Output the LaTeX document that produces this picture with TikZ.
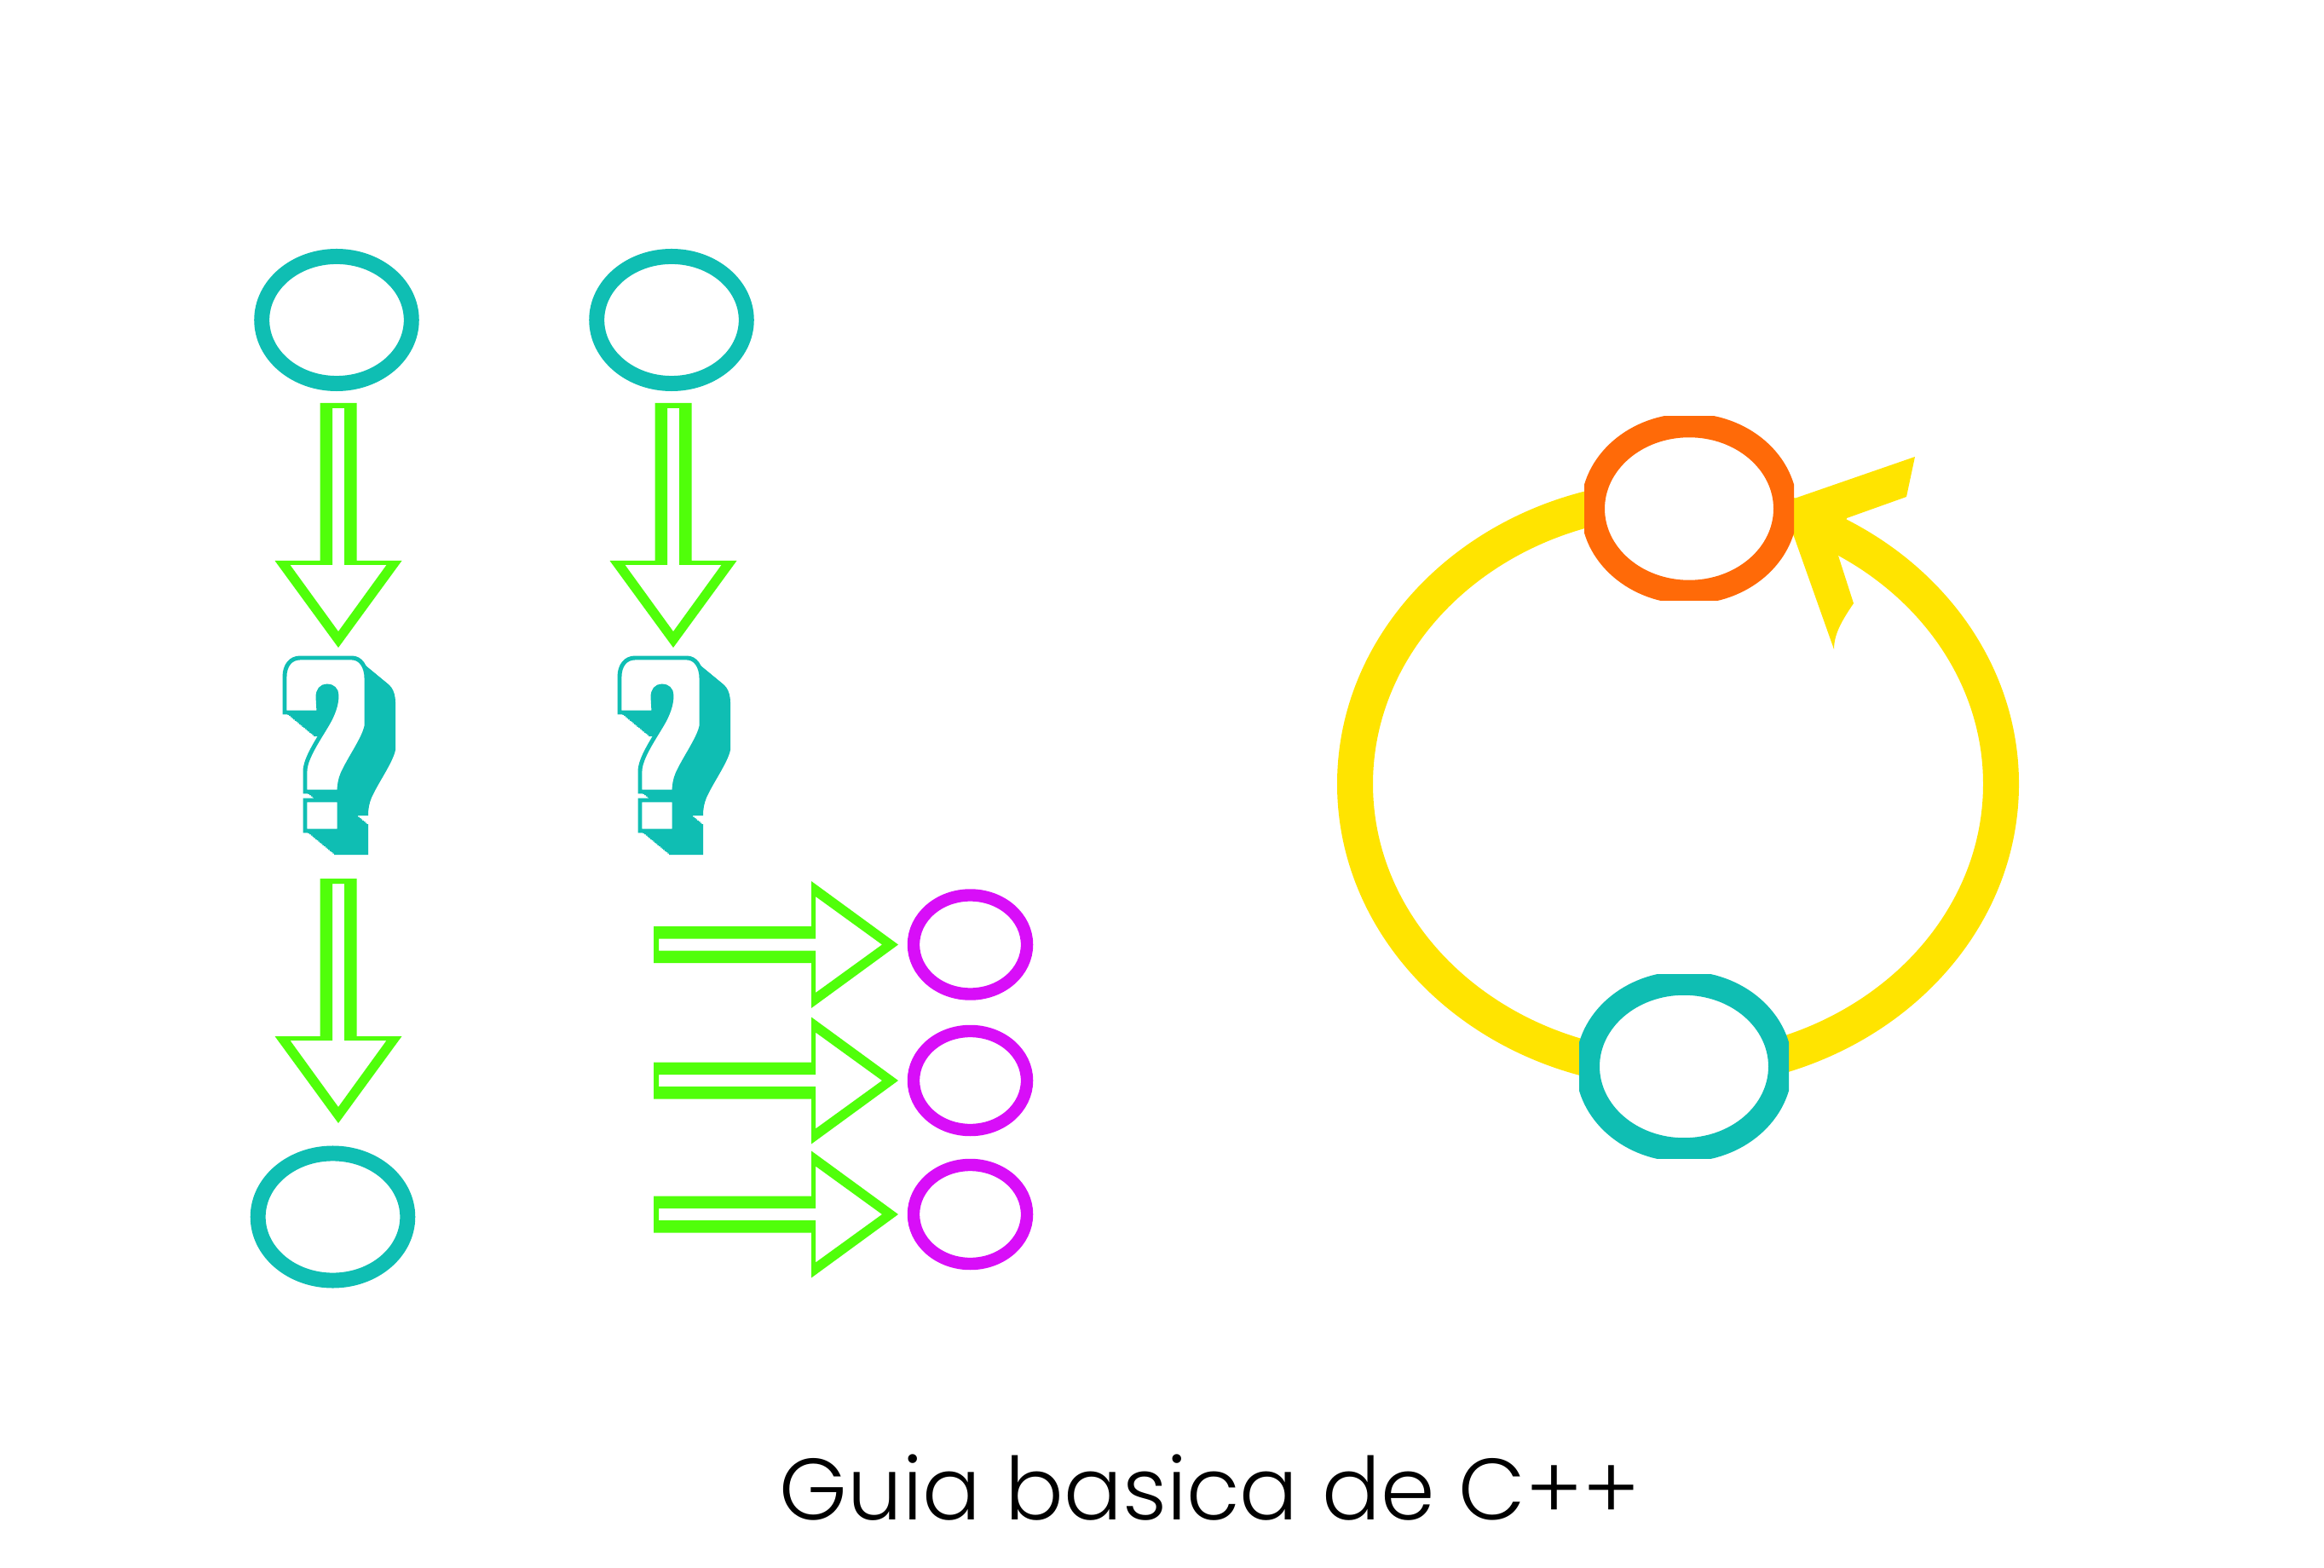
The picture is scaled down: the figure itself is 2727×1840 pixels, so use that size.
\documentclass[tikz,border=0pt]{standalone}
\usepackage{fontspec}
\setmainfont{Poppins}
\newfontfamily\titulofont{Poppins}[UprightFont={* Light}]
\usetikzlibrary{shapes.geometric, positioning}
\definecolor{Turquesa}{RGB}{15, 190, 179}
\definecolor{Verde}{RGB}{80, 255, 10}
\definecolor{Morado}{RGB}{216, 14, 248}
\definecolor{Naranja}{RGB}{255, 106, 8}
\definecolor{Amarillo}{RGB}{255, 228, 0}

% outline of the question mark (hook + dot), origin at its top left corner
\newcommand{\pregunta}{(0,64) -- (0,22) .. controls (0,9) and (7,0) .. (18,0) -- (79,0)
    .. controls (89,0) and (96,10) .. (96,24) -- (96,80)
    .. controls (93,95) and (76,118) .. (68,136) .. controls (65,143) and (64,150) .. (64,157)
    -- (24,157) -- (24,133) .. controls (24,118) and (40,95) .. (50,78)
    .. controls (57,66) and (61,55) .. (61,44) .. controls (61,37) and (56,33) .. (50,33)
    .. controls (43,33) and (39,38) .. (39,46) -- (40,64) -- cycle
    (24,167) rectangle (64,203)}

\begin{document}
\begin{tikzpicture}[
    x=0.01cm, y=-0.01cm, % one unit = one pixel of the sketch, y going down
    nodo/.style={ellipse, draw=Turquesa, fill=white, line width=5.1pt, minimum width=1.755cm, minimum height=1.49cm, inner sep=0pt},
    salida/.style={ellipse, draw=Morado, fill=white, line width=4.1pt, minimum width=1.33cm, minimum height=1.16cm, inner sep=0pt},
    ciclo/.style={ellipse, fill=white, line width=8pt, minimum width=2.26cm, minimum height=1.955cm, inner sep=0pt},
    anillo/.style={draw=Amarillo, line width=11.95pt},
    flecha/.pic={
        \fill[Verde, even odd rule]
            (0,-21.5) -- (185,-21.5) -- (185,-74.5) -- (287,0) -- (185,74.5) -- (185,21.5) -- (0,21.5) -- cycle
            (6,-7) -- (190,-7) -- (190,-56.5) -- (268,0) -- (190,56.5) -- (190,7) -- (6,7) -- cycle;
    },
    interroga/.pic={
        % shadow: the glyph pushed down to the right in small steps
        \foreach \s in {0,...,20}
            \fill[Turquesa, shift={(1.7*\s,1.4*\s)}] \pregunta;
        \filldraw[fill=white, draw=Turquesa, line width=1.4pt] \pregunta;
    }
]
\useasboundingbox (0,0) rectangle (2727,1840);

% --- Column 1: start, question, end ---
\node[nodo] (ini1) at (395,375.5) {};
\coordinate (preg1) at (334,772);
\node[nodo] (fin1) at (390.5,1428) {};

\pic[rotate=-90] at ([shift={(2,97.5)}]ini1.center) {flecha};
\pic at (preg1) {interroga};
\pic[rotate=-90] at ([shift={(6.5,-397)}]fin1.center) {flecha};

% --- Column 2: start, question and three outputs ---
\node[nodo] (ini2) at (788,375.5) {};
\coordinate (preg2) at (727,772);

\pic[rotate=-90] at ([shift={(2,97.5)}]ini2.center) {flecha};
\pic at (preg2) {interroga};

\foreach \k/\y in {1/1108.5, 2/1268, 3/1425}
{
    \node[salida] (sal\k) at (1138.5,\y) {};
    \pic at ([shift={(-371.5,0)}]sal\k.center) {flecha};
}

% --- Loop: yellow ring with its arrow head ---
\coordinate (centro) at (1969,920);
\draw[anillo] (centro) ellipse [x radius=379, y radius=336];
\fill[Amarillo] (2091,590) -- (2247,536) -- (2237,583) -- (2167,608) -- (2157,652) -- (2175,708)
    .. controls (2160,730) and (2152,745) .. (2152,762) -- cycle;

% the two loop nodes are cut flat at their sides
\begin{scope}
    \clip (1982,597) ++(-123,-108) rectangle ++(246,216);
    \node[ciclo, draw=Naranja] (cond) at (1982,597) {};
\end{scope}
\begin{scope}
    \clip (1976,1251.5) ++(-123,-108) rectangle ++(246,216);
    \node[ciclo, draw=Turquesa] (cuerpo) at (1976,1251.5) {};
\end{scope}

% --- Title ---
\node[anchor=base, font=\titulofont\fontsize{29}{35}\selectfont] (titulo) at (1419.5,1783) {Guia basica de C++};

\end{tikzpicture}
\end{document}
